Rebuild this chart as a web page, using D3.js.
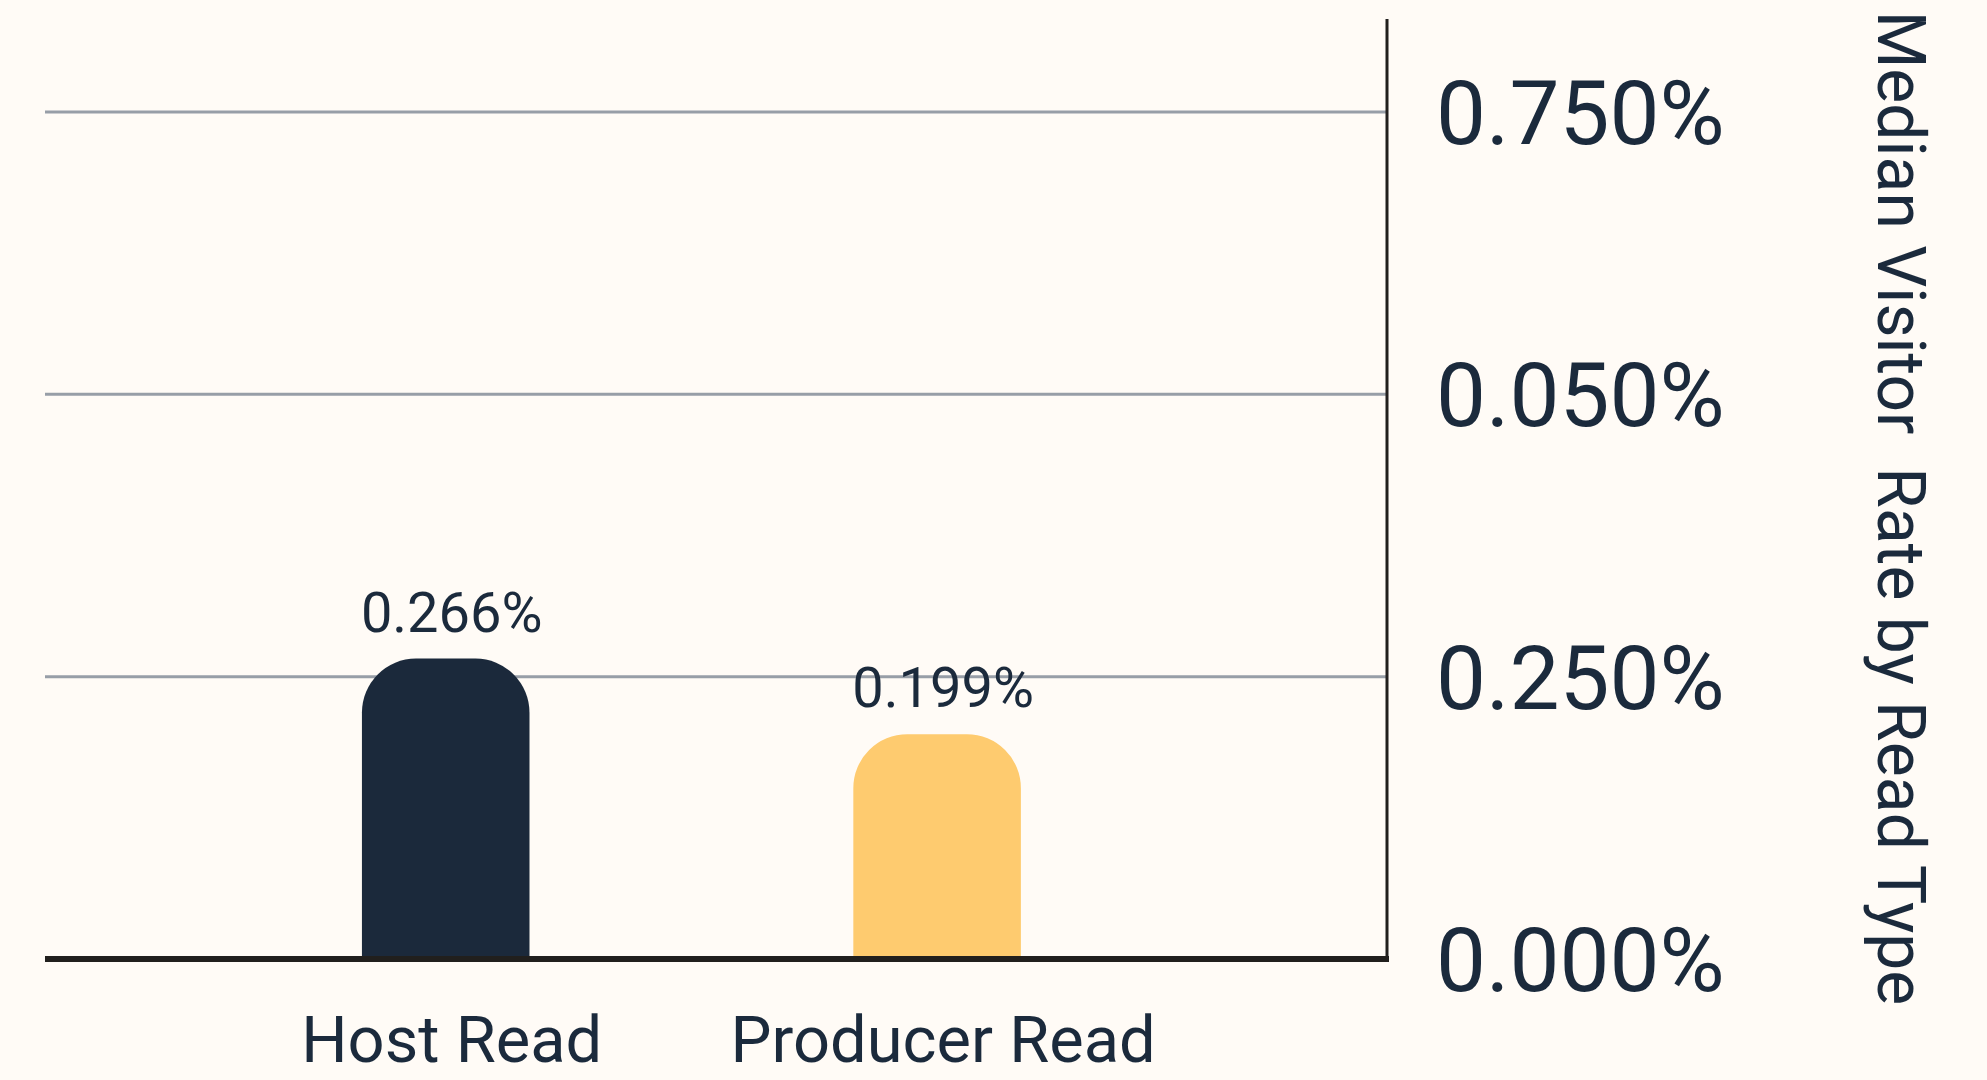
<!DOCTYPE html>
<html>
<head>
<meta charset="utf-8">
<script src="https://cdn.jsdelivr.net/npm/d3@7"></script>
<style>
  body { margin: 0; background: #fffbf6; }
  text { font-family: Roboto, Inter, sans-serif; fill: #1b2a3c; }
</style>
</head>
<body>
<div id="chart"></div>
<script>
const categories = ['Host Read', 'Producer Read'];
const values = [0.266, 0.199];
const valueLabels = ['0.266%', '0.199%'];
const barColors = ['#1b293b', '#fecb6f'];
const tickValues = [0, 0.25, 0.5, 0.75];
const tickLabels = ['0.000%', '0.250%', '0.050%', '0.750%'];
const axisTitle = 'Median Visitor  Rate by Read Type';

const width = 1987;
const height = 1080;
const plotLeft = 45, plotRight = 1387, plotBottom = 959, plotTop = 112;

const svg = d3.select('#chart')
  .append('svg')
  .attr('width', width)
  .attr('height', height);

const x = d3.scaleBand()
  .domain(categories)
  .range([plotLeft, plotRight])
  .paddingInner(0.659)
  .paddingOuter(0.695)
  .align(0.464);

const y = d3.scaleLinear()
  .domain([0, 0.75])
  .range([plotBottom, plotTop]);

// gridlines
svg.append('g')
  .selectAll('line')
  .data(tickValues.slice(1))
  .enter().append('line')
    .attr('x1', plotLeft)
    .attr('x2', plotRight)
    .attr('y1', d => y(d))
    .attr('y2', d => y(d))
    .attr('stroke', '#979ea7')
    .attr('stroke-width', 3);

// bars with rounded tops
function barPath(x0, w, yt, yb) {
  const r = 54;
  return `M${x0},${yb + 3} L${x0},${yt + r} A${r},${r} 0 0 1 ${x0 + r},${yt}` +
    ` L${x0 + w - r},${yt} A${r},${r} 0 0 1 ${x0 + w},${yt + r} L${x0 + w},${yb + 3} Z`;
}

svg.append('g')
  .selectAll('path')
  .data(values)
  .enter().append('path')
    .attr('d', (d, i) => barPath(x(categories[i]), x.bandwidth(), y(d), y(0)))
    .attr('fill', (d, i) => barColors[i]);

svg.append('g')
  .selectAll('text')
  .data(values)
  .enter().append('text')
    .attr('x', (d, i) => x(categories[i]) + x.bandwidth() / 2 + 6)
    .attr('y', d => y(d) - 27)
    .attr('text-anchor', 'middle')
    .attr('font-size', 56)
    .text((d, i) => valueLabels[i]);

// baseline and right axis line
svg.append('line')
  .attr('x1', plotLeft).attr('x2', plotRight + 2)
  .attr('y1', y(0)).attr('y2', y(0))
  .attr('stroke', '#211f1d')
  .attr('stroke-width', 6);

svg.append('line')
  .attr('x1', plotRight).attr('x2', plotRight)
  .attr('y1', 19).attr('y2', y(0) + 3)
  .attr('stroke', '#211f1d')
  .attr('stroke-width', 3);

// tick labels on the right
svg.append('g')
  .selectAll('text')
  .data(tickValues)
  .enter().append('text')
    .attr('x', 1436)
    .attr('y', d => y(d))
    .attr('dy', '0.36em')
    .attr('font-size', 89)
    .text((d, i) => tickLabels[i]);

// category labels
svg.append('g')
  .selectAll('text')
  .data(categories)
  .enter().append('text')
    .attr('x', d => x(d) + x.bandwidth() / 2 + 6)
    .attr('y', 1062)
    .attr('text-anchor', 'middle')
    .attr('font-size', 65)
    .text(d => d);

svg.append('text')
  .attr('transform', 'translate(1878, 508) rotate(90)')
  .attr('text-anchor', 'middle')
  .attr('font-size', 66)
  .style('white-space', 'pre')
  .text(axisTitle);
</script>
</body>
</html>
